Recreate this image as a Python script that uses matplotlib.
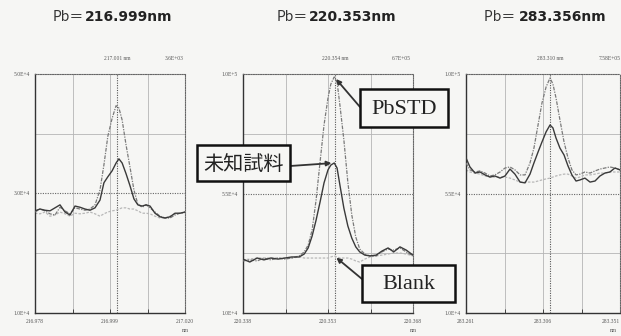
import numpy as np
import matplotlib
matplotlib.use("Agg")
import matplotlib.pyplot as plt
from matplotlib.patches import Rectangle

# ---------------- data (intensity in thousands of counts) ----------------
# Pb 216.999 nm
wl1 = [216.9780, 216.9794, 216.9808, 216.9822, 216.9836, 216.9850, 216.9864, 216.9878,
       216.9892, 216.9906, 216.9920, 216.9934, 216.9948, 216.9962, 216.9973, 216.9984,
       216.9996, 217.0007, 217.0015, 217.0024, 217.0035, 217.0046, 217.0057, 217.0068,
       217.0080, 217.0091, 217.0102, 217.0116, 217.0130, 217.0144, 217.0158, 217.0172,
       217.0186, 217.0200]
std1 = [26.9, 27.4, 27.1, 26.6, 26.4, 27.7, 27.1, 26.6, 27.6, 27.4, 27.2, 27.4, 28.1, 30.6,
        34.8, 39.6, 42.6, 44.7, 44.3, 42.3, 38.1, 34.4, 30.6, 28.2, 27.7, 28.1, 27.6, 26.9,
        26.2, 25.9, 25.9, 26.4, 26.7, 26.9]
unk1 = [27.1, 27.4, 27.2, 27.1, 27.6, 28.1, 26.9, 26.4, 27.9, 27.7, 27.4, 27.2, 27.6, 28.9,
        31.8, 32.8, 33.8, 35.1, 35.8, 35.1, 33.3, 31.3, 29.1, 28.1, 27.9, 28.1, 27.9, 26.7,
        26.1, 25.9, 26.1, 26.7, 26.7, 26.9]
blk1 = [26.7, 26.6, 26.9, 26.2, 26.4, 26.9, 26.6, 26.2, 26.7, 26.6, 26.7, 26.9, 26.6, 26.2,
        26.6, 26.9, 27.1, 27.2, 27.4, 27.6, 27.6, 27.4, 27.4, 27.1, 26.7, 26.7, 26.6, 26.2,
        25.9, 25.9, 26.2, 26.6, 26.7, 26.7]

# Pb 220.353 nm
wl2 = [220.3380, 220.3392, 220.3405, 220.3417, 220.3429, 220.3442, 220.3454, 220.3466,
       220.3479, 220.3488, 220.3495, 220.3502, 220.3509, 220.3516, 220.3523, 220.3530,
       220.3535, 220.3541, 220.3546, 220.3551, 220.3558, 220.3565, 220.3572, 220.3579,
       220.3586, 220.3595, 220.3604, 220.3615, 220.3625, 220.3636, 220.3646, 220.3657,
       220.3668, 220.3680]
std2 = [29.6, 30.0, 29.6, 30.7, 30.0, 30.7, 30.3, 30.7, 31.5, 33.0, 35.6, 41.3, 52.6, 66.9,
        80.8, 91.0, 96.2, 98.9, 97.0, 88.3, 75.2, 59.3, 46.9, 38.6, 34.1, 32.2, 31.5, 31.5,
        33.0, 34.1, 33.7, 34.5, 33.0, 31.5]
unk2 = [30.3, 29.2, 30.7, 30.0, 30.7, 30.3, 30.7, 31.1, 31.1, 32.2, 34.5, 39.0, 45.0, 51.8,
        59.0, 63.9, 65.7, 66.5, 64.6, 58.2, 49.5, 42.8, 38.2, 34.9, 33.0, 31.8, 31.5, 31.8,
        33.3, 34.5, 33.0, 34.9, 33.7, 31.8]
blk2 = [30.0, 30.3, 30.7, 30.7, 30.7, 30.7, 30.7, 30.7, 31.1, 30.7, 30.7, 30.7, 30.7, 30.7,
        30.7, 30.7, 31.1, 31.5, 31.1, 30.7, 30.7, 30.7, 30.3, 29.6, 29.2, 30.3, 31.1, 31.5,
        31.8, 32.2, 32.6, 32.6, 32.2, 31.5]

# Pb 283.356 nm
wl3 = [283.2610, 283.2633, 283.2663, 283.2692, 283.2721, 283.2750, 283.2779, 283.2809,
       283.2838, 283.2867, 283.2896, 283.2926, 283.2955, 283.2984, 283.3007, 283.3031,
       283.3054, 283.3078, 283.3101, 283.3118, 283.3136, 283.3159, 283.3183, 283.3206,
       283.3229, 283.3253, 283.3276, 283.3305, 283.3335, 283.3364, 283.3393, 283.3422,
       283.3451, 283.3480, 283.3510]
std3 = [66.5, 63.9, 63.1, 63.5, 62.7, 61.6, 62.0, 63.1, 64.6, 65.0, 63.9, 62.0, 62.0, 66.5,
        72.1, 80.8, 89.1, 95.1, 98.5, 96.2, 91.0, 82.7, 74.4, 68.4, 63.9, 62.0, 62.3, 63.1,
        62.7, 63.5, 64.2, 64.6, 65.0, 64.6, 63.9]
unk3 = [68.4, 65.0, 62.7, 63.1, 62.0, 61.2, 61.6, 60.8, 61.6, 64.2, 62.3, 59.3, 59.0, 62.3,
        66.5, 70.6, 74.4, 78.2, 80.8, 79.7, 75.9, 72.1, 69.5, 65.4, 62.0, 59.7, 60.1, 60.8,
        59.3, 59.7, 61.6, 62.7, 63.1, 64.6, 63.9]
blk3 = [63.9, 63.1, 62.7, 62.3, 61.6, 61.2, 61.2, 61.2, 61.2, 60.8, 60.1, 59.3, 59.3, 59.3,
        59.3, 59.7, 60.1, 60.5, 60.8, 61.2, 61.6, 62.0, 62.3, 62.3, 61.6, 60.8, 61.2, 62.0,
        62.0, 62.3, 62.7, 62.7, 63.1, 63.1, 63.1]

titles_pre = ["Pb＝", "Pb＝", "Pb＝ "]
titles_num = ["216.999nm", "220.353nm", "283.356nm"]
x_ranges = [(216.978, 217.020), (220.338, 220.368), (283.261, 283.351)]
x_labels = [["216.978", "216.999", "217.020"],
            ["220.338", "220.353", "220.368"],
            ["283.261", "283.306", "283.351"]]
y_ranges = [(10, 50), (10, 100), (10, 100)]
y_labels = [["1.0E+4", "3.0E+4", "5.0E+4"],
            ["1.0E+4", "5.5E+4", "1.0E+5"],
            ["1.0E+4", "5.5E+4", "1.0E+5"]]
cursors = [217.0010, 220.3542, 283.3101]
cursor_text = ["217.001 nm", "220.354 nm", "283.310 nm"]
peak_text = ["3.6E+03", "6.7E+05", "7.58E+05"]

# ---------------- layout ----------------
W, H = 621, 336
BG = "#f6f6f4"

def fx(x):
    return x / W

def fy(y):
    return 1 - y / H

fig = plt.figure(figsize=(W / 100, H / 100), dpi=100)
fig.patch.set_facecolor(BG)

axes_px = [(35, 185), (243, 413), (466, 620)]
top_px, bot_px = 74, 313
title_split = [84, 308, 518]

series = [(wl1, std1, unk1, blk1), (wl2, std2, unk2, blk2), (wl3, std3, unk3, blk3)]
tick_font = dict(family="Liberation Serif", fontsize=4, color="#555")

axs = []
for i, (l, r) in enumerate(axes_px):
    ax = fig.add_axes([fx(l), fy(bot_px), (r - l) / W, (bot_px - top_px) / H])
    ax.set_facecolor(BG)
    x0, x1 = x_ranges[i]
    y0, y1 = y_ranges[i]
    ax.set_xlim(x0, x1)
    ax.set_ylim(y0, y1)

    xq = np.linspace(x0, x1, 5)
    yq = np.linspace(y0, y1, 5)
    for k in (1, 2, 3):
        ax.axvline(xq[k], color="#b5b5b5", lw=0.6, zorder=1)
    ax.axhline(yq[1], color="#b5b5b5", lw=0.6, zorder=1)
    ax.axhline(yq[3], color="#b5b5b5", lw=0.6, zorder=1)
    ax.axhline(yq[2], color="#666", lw=0.8, ls=(0, (1, 1.2)), zorder=1)
    ax.axvline(cursors[i], color="#555", lw=0.8, ls=(0, (1, 1.2)), zorder=1)

    for s in ("left", "bottom"):
        ax.spines[s].set_color("#333")
        ax.spines[s].set_linewidth(1.0)
    for s in ("top", "right"):
        ax.spines[s].set_color("#666")
        ax.spines[s].set_linewidth(0.8)
        ax.spines[s].set_linestyle((0, (1, 1.2)))

    wl, sd, uk, bk = series[i]
    ax.plot(wl, bk, color="#b8b8b8", lw=0.9, ls=(0, (2, 1.2)), zorder=2)
    ax.plot(wl, sd, color="#7a7a7a", lw=0.9, ls=(0, (3, 1, 1, 1)), zorder=3)
    ax.plot(wl, uk, color="#3a3a3a", lw=1.0, zorder=4)

    ax.set_xticks([x0, xq[2], x1])
    ax.set_xticks(xq[1:4:2], minor=True)
    ax.set_xticklabels(x_labels[i], **tick_font)
    ax.tick_params(axis="x", which="both", direction="in", length=3, width=0.7,
                   color="#444", pad=4)
    last = i == len(axes_px) - 1
    if last:
        # keep the right-most wavelength label inside the figure edge
        ax.get_xticklabels()[-1].set_horizontalalignment("right")
    ax.set_yticks([y0, yq[2], y1])
    ax.set_yticklabels(y_labels[i], **tick_font)
    ax.tick_params(axis="y", length=0, pad=4)

    fig.text(fx(r - 3) if last else fx(r), fy(331), "nm",
             ha="right" if last else "center", va="center", **tick_font)
    fig.text(fx(l + (r - l) * (cursors[i] - x0) / (x1 - x0)), fy(58), cursor_text[i],
             ha="center", va="center", **tick_font)
    fig.text(fx(l + (r - l) * 0.93), fy(58), peak_text[i], ha="center", va="center",
             **tick_font)

    fig.text(fx(title_split[i]), fy(17), titles_pre[i], ha="right", va="center",
             fontsize=10, color="#333", family=["Noto Sans CJK JP", "DejaVu Sans"])
    fig.text(fx(title_split[i] + 1), fy(17), titles_num[i], ha="left", va="center",
             fontsize=10, fontweight="bold", color="#222", family="DejaVu Sans")
    axs.append(ax)

# ---------------- callout boxes on the 220.353 nm panel ----------------
ax2 = axs[1]
wl2a = np.asarray(wl2)
i_std = int(np.argmax(std2))
i_unk = int(np.argmax(unk2))
i_blk = int(np.argmin(np.abs(wl2a - cursors[1])))

boxes = [
    ("PbSTD", (360, 89, 448, 127), "Liberation Serif", 16),
    ("未知試料", (197, 145, 290, 181), "Noto Sans CJK JP", 14.5),
    ("Blank", (362, 265, 455, 302), "Liberation Serif", 16),
]
for text, (bx0, by0, bx1, by1), fam, fs in boxes:
    fig.add_artist(Rectangle((fx(bx0), fy(by1)), (bx1 - bx0) / W, (by1 - by0) / H,
                             transform=fig.transFigure, facecolor=BG,
                             edgecolor="#111", lw=1.8, zorder=5))
    fig.text(fx((bx0 + bx1) / 2), fy((by0 + by1) / 2 + 1), text, ha="center",
             va="center", fontsize=fs, color="#222", family=fam, zorder=6)

arrow = dict(arrowstyle="-|>", color="#333", lw=1.3, mutation_scale=7,
             shrinkA=0, shrinkB=2)
ax2.annotate("", xy=(wl2[i_std], std2[i_std]), xycoords="data",
             xytext=(fx(360), fy(107)), textcoords="figure fraction",
             arrowprops=arrow, annotation_clip=False)
ax2.annotate("", xy=(wl2[i_unk], unk2[i_unk]), xycoords="data",
             xytext=(fx(290), fy(166)), textcoords="figure fraction",
             arrowprops=arrow, annotation_clip=False)
ax2.annotate("", xy=(wl2[i_blk], blk2[i_blk]), xycoords="data",
             xytext=(fx(362), fy(279)), textcoords="figure fraction",
             arrowprops=arrow, annotation_clip=False)

fig.savefig("out.png", dpi=100, facecolor=BG)
